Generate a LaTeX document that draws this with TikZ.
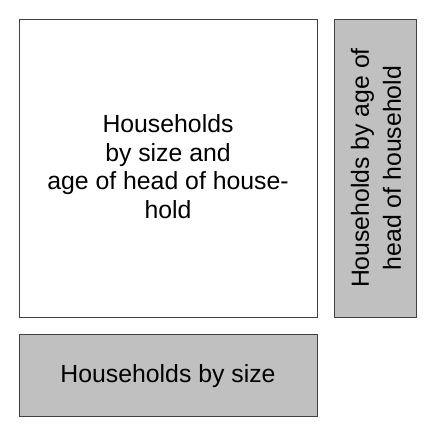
\documentclass[tikz,border=0pt]{standalone}
\usepackage{fontspec}
\setmainfont{Liberation Sans}
\begin{document}
\begin{tikzpicture}[x=1pt,y=-1pt,
  box/.style={draw={rgb,255:red,64;green,64;blue,64}, line width=1pt},
  graybox/.style={box, fill={rgb,255:red,192;green,192;blue,192}},
  lbl/.style={align=center, font=\fontsize{24.8}{28.5}\selectfont, inner sep=0pt}]
\useasboundingbox (0,0) rectangle (441,432);
\draw[box, fill=white] (19,19.5) rectangle (317,317);
\node[lbl] (big) at (168,166.5) {Households\\by size and\\age of head of house-\\hold};
\draw[graybox] (334,19.5) rectangle (416,317);
\node[lbl, rotate=90, font=\fontsize{24.8}{32}\selectfont] (right) at (376,168) {Households by age of\\head of household};
\draw[graybox] (19,334.5) rectangle (317,416.5);
\node[lbl, anchor=base] (bottom) at (168,382.7) {Households by size};
\end{tikzpicture}
\end{document}
